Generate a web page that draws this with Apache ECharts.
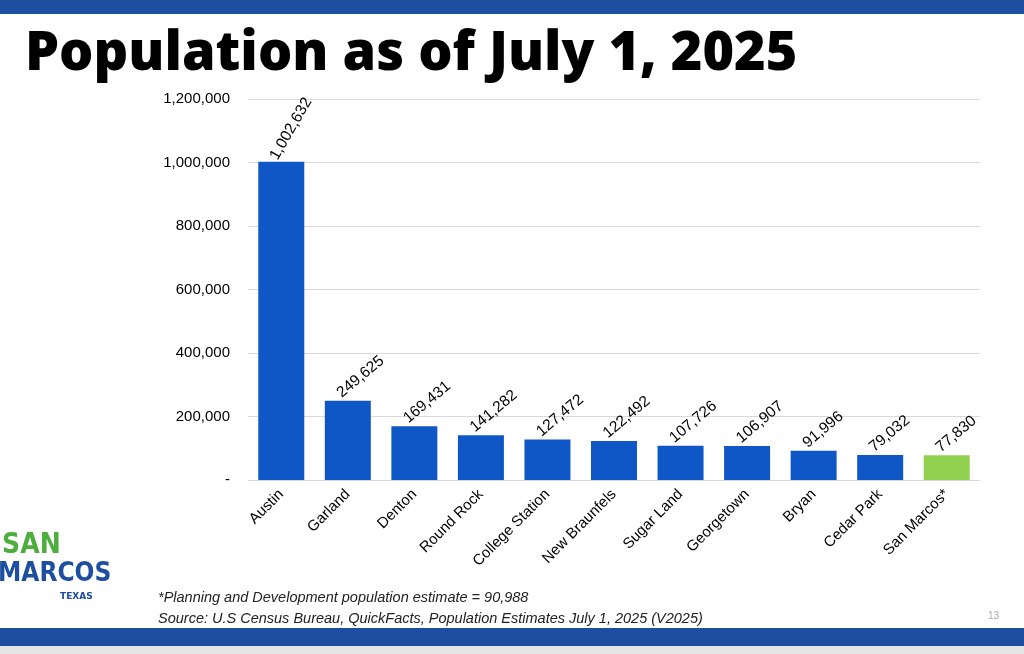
<!DOCTYPE html>
<html>
<head>
<meta charset="utf-8">
<script src="https://cdn.jsdelivr.net/npm/echarts@6/dist/echarts.min.js"></script>
<style>
  html, body { margin: 0; padding: 0; background: #fff; }
  #chart { width: 1024px; height: 654px; }
</style>
</head>
<body>
<div id="chart"></div>
<script>
const cities = ["Austin", "Garland", "Denton", "Round Rock", "College Station", "New Braunfels",
  "Sugar Land", "Georgetown", "Bryan", "Cedar Park", "San Marcos*"];
const population = [1002632, 249625, 169431, 141282, 127472, 122492, 107726, 106907, 91996, 79032, 77830];
const highlightCity = "San Marcos*";

const chart = echarts.init(document.getElementById("chart"));

chart.setOption({
  animation: false,
  title: {
    text: "Population as of July 1, 2025",
    left: 20,
    top: 23,
    textStyle: { fontFamily: "Open Sans", fontWeight: 800, fontSize: 54, color: "#000" }
  },
  graphic: [
    { type: "rect", shape: { x: 0, y: 0, width: 1024, height: 14 }, style: { fill: "#1c4fa0" } },
    { type: "rect", shape: { x: 0, y: 628, width: 1024, height: 18 }, style: { fill: "#1c4fa0" } },
    { type: "rect", shape: { x: 0, y: 646, width: 1024, height: 8 }, style: { fill: "#e4e4e4" } },
    { type: "text", left: 158, top: 590, style: { text: "*Planning and Development population estimate = 90,988", font: "italic 14.5px 'Liberation Sans'", fill: "#222" } },
    { type: "text", left: 158, top: 611, style: { text: "Source: U.S Census Bureau, QuickFacts, Population Estimates July 1, 2025 (V2025)", font: "italic 14.5px 'Liberation Sans'", fill: "#222" } },
    { type: "text", left: 988, top: 611, style: { text: "13", font: "10px 'Liberation Sans'", fill: "#aaa" } },
    { type: "text", left: 2, top: 532, style: { text: "SAN", font: "bold 28px 'DejaVu Sans Condensed'", fill: "#4caf3c" } },
    { type: "text", left: -2, top: 561, style: { text: "MARCOS", font: "bold 26px 'DejaVu Sans Condensed'", fill: "#1c4fa0" } },
    { type: "text", left: 60, top: 592, style: { text: "TEXAS", font: "bold 9px 'DejaVu Sans'", fill: "#1c4fa0" } }
  ],
  grid: { left: 248, right: 44, top: 99, bottom: 174 },
  xAxis: {
    type: "category",
    data: cities,
    axisLine: { show: false },
    axisTick: { show: false },
    axisLabel: { rotate: 45, interval: 0, fontFamily: "Liberation Sans", fontSize: 15, color: "#000", margin: 12 }
  },
  yAxis: {
    type: "value",
    min: 0,
    max: 1200000,
    interval: 200000,
    axisLine: { show: false },
    axisTick: { show: false },
    splitLine: { lineStyle: { color: "#d9d9d9" } },
    axisLabel: {
      fontFamily: "Liberation Sans", fontSize: 15, color: "#000", margin: 18,
      formatter: v => v === 0 ? "-" : v.toLocaleString("en-US")
    }
  },
  series: [{
    type: "bar",
    barWidth: 46,
    data: population.map((v, i) => ({
      value: v,
      itemStyle: { color: cities[i] === highlightCity ? "#92d050" : "#0f57c7" },
      label: i === 0 ? { rotate: 60 } : undefined
    })),
    label: {
      show: true,
      position: "top",
      rotate: 40,
      align: "left",
      verticalAlign: "middle",
      distance: 8,
      offset: [-8, -4],
      fontFamily: "Liberation Sans",
      fontSize: 15.5,
      color: "#000",
      formatter: p => p.value.toLocaleString("en-US")
    }
  }]
});
</script>
</body>
</html>
